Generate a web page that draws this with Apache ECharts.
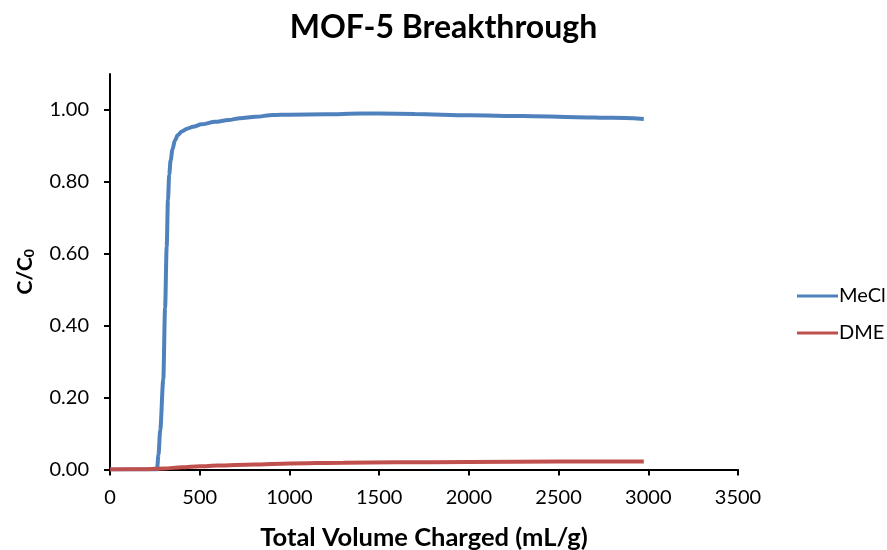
<!DOCTYPE html>
<html>
<head>
<meta charset="utf-8">
<script src="https://cdn.jsdelivr.net/npm/echarts@6/dist/echarts.min.js"></script>
<style>
  html, body { margin: 0; padding: 0; background: #fff; }
  #chart { width: 887px; height: 550px; }
</style>
</head>
<body>
<div id="chart"></div>
<script>
// Breakthrough curves: outlet concentration ratio vs. volume charged
const volumeMeCl = [0, 262, 270, 280, 297, 307, 316, 323, 330, 338, 348, 362, 378, 399, 430, 462, 510, 585, 660, 724, 810, 908, 1000, 1200, 1400, 1500, 1700, 2000, 2300, 2600, 2800, 2975];
const ratioMeCl  = [0, 0, 0.04, 0.11, 0.25, 0.45, 0.62, 0.75, 0.82, 0.86, 0.89, 0.916, 0.93, 0.94, 0.948, 0.953, 0.96, 0.967, 0.972, 0.977, 0.981, 0.986, 0.987, 0.988, 0.99, 0.99, 0.989, 0.985, 0.983, 0.98, 0.978, 0.975];

const volumeDME = [0, 200, 300, 400, 500, 600, 800, 1000, 1300, 1600, 2000, 2500, 2975];
const ratioDME  = [0, 0.001, 0.003, 0.006, 0.009, 0.011, 0.014, 0.017, 0.019, 0.02, 0.021, 0.022, 0.022];

const xTicks = [0, 500, 1000, 1500, 2000, 2500, 3000, 3500];
const yTicks = [0, 0.2, 0.4, 0.6, 0.8, 1.0];

const FONT = 'Lato';

const pair = (xs, ys) => xs.map((x, i) => [x, ys[i]]);

const chart = echarts.init(document.getElementById('chart'), null, { renderer: 'canvas' });
chart.setOption({
  animation: false,
  backgroundColor: '#ffffff',
  title: {
    text: 'MOF-5 Breakthrough',
    left: 'center',
    top: 7,
    textStyle: { fontFamily: FONT, fontWeight: 'bold', fontSize: 32, color: '#000' }
  },
  grid: { left: 110, right: 149, top: 74, bottom: 80.5, containLabel: false, outerBoundsMode: 'none' },
  legend: {
    orient: 'vertical',
    left: 792,
    top: 281,
    icon: 'rect',
    itemWidth: 41,
    itemHeight: 3,
    itemGap: 17,
    textStyle: { fontFamily: FONT, fontSize: 20, color: '#000', padding: [0, 0, 0, -4] },
    data: ['MeCl', 'DME']
  },
  xAxis: {
    type: 'value',
    min: 0,
    max: 3500,
    interval: 500,
    name: 'Total Volume Charged (mL/g)',
    nameLocation: 'middle',
    nameGap: 55,
    nameTextStyle: { fontFamily: FONT, fontWeight: 'bold', fontSize: 25.5, color: '#000' },
    axisLine: { lineStyle: { color: '#000', width: 2 } },
    axisTick: { show: true, length: 6, lineStyle: { color: '#000', width: 2 }, customValues: xTicks },
    axisLabel: {
      fontFamily: FONT, fontSize: 20, color: '#000', margin: 18,
      customValues: xTicks,
      formatter: v => String(v)
    },
    splitLine: { show: false }
  },
  yAxis: {
    type: 'value',
    min: 0,
    max: 1.1,
    interval: 0.2,
    name: '{a|C/C}{b|0}',
    nameLocation: 'middle',
    nameGap: 74,
    nameRotate: 90,
    nameTextStyle: {
      rich: {
        a: { fontFamily: FONT, fontWeight: 'bold', fontSize: 21, color: '#000' },
        b: { fontFamily: FONT, fontWeight: 'bold', fontSize: 14, color: '#000', verticalAlign: 'bottom', padding: [8, 0, 0, 0] }
      }
    },
    axisLine: { show: true, lineStyle: { color: '#000', width: 2 } },
    axisTick: { show: true, length: 6, lineStyle: { color: '#000', width: 2 }, customValues: yTicks },
    axisLabel: {
      fontFamily: FONT, fontSize: 20, color: '#000', margin: 21,
      customValues: yTicks,
      formatter: v => v.toFixed(2)
    },
    splitLine: { show: false }
  },
  series: [
    {
      name: 'MeCl',
      type: 'line',
      data: pair(volumeMeCl, ratioMeCl),
      showSymbol: false,
      symbol: 'none',
      smooth: 0.3,
      smoothMonotone: 'x',
      lineStyle: { color: '#4F81BD', width: 4 },
      itemStyle: { color: '#4F81BD' }
    },
    {
      name: 'DME',
      type: 'line',
      data: pair(volumeDME, ratioDME),
      showSymbol: false,
      symbol: 'none',
      smooth: 0.3,
      smoothMonotone: 'x',
      lineStyle: { color: '#C0504D', width: 4 },
      itemStyle: { color: '#C0504D' }
    }
  ]
});
</script>
</body>
</html>
